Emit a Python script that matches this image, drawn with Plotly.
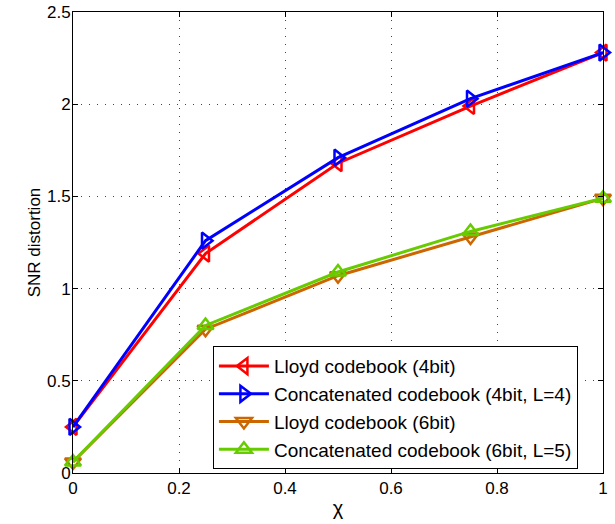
import plotly.graph_objects as go

chi = [0, 0.25, 0.5, 0.75, 1]
lloyd4 = [0.25, 1.19, 1.68, 1.99, 2.28]
concat4 = [0.25, 1.26, 1.71, 2.03, 2.28]
lloyd6 = [0.06, 0.78, 1.07, 1.28, 1.49]
concat6 = [0.06, 0.80, 1.09, 1.31, 1.49]

names = ["Lloyd codebook (4bit)", "Concatenated codebook (4bit, L=4)",
         "Lloyd codebook (6bit)", "Concatenated codebook (6bit, L=5)"]
colors = ["#ff0000", "#0000ff", "#cc6600", "#66cc00"]
symbols = ["triangle-left-open", "triangle-right-open", "triangle-down-open", "triangle-up-open"]
series = [lloyd4, concat4, lloyd6, concat6]

fig = go.Figure()
for n, c, s, y in zip(names, colors, symbols, series):
    fig.add_trace(go.Scatter(
        x=chi, y=y, name=n, mode="lines+markers", cliponaxis=False,
        line=dict(color=c, width=3),
        marker=dict(symbol=s, size=14, color=c, line=dict(color=c, width=2.5)),
    ))

axis_common = dict(
    showline=True, linecolor="black", linewidth=1, mirror="ticks",
    ticks="inside", ticklen=5, tickcolor="black", automargin=False,
    showgrid=True, gridcolor="#444444", griddash="1px,7px", gridwidth=1,
    zeroline=False, tickfont=dict(size=17, color="black"),
)

fig.update_layout(
    width=615, height=524,
    margin=dict(l=73, r=12, t=12, b=51),
    paper_bgcolor="white", plot_bgcolor="white",
    font=dict(family="Liberation Sans, Arial, sans-serif", color="black", size=17),
    xaxis=dict(range=[0, 1], tickvals=[0, 0.2, 0.4, 0.6, 0.8, 1],
               ticktext=["0", "0.2", "0.4", "0.6", "0.8", "1"],
               title=dict(text="χ", standoff=3, font=dict(size=20)), **axis_common),
    yaxis=dict(range=[0, 2.5], tickvals=[0, 0.5, 1, 1.5, 2, 2.5],
               ticktext=["0", "0.5", "1", "1.5", "2", "2.5"], ticklabelstandoff=-2,
               title=dict(text="SNR distortion", standoff=2, font=dict(size=17)), **axis_common),
    legend=dict(x=0.264, y=0.275, xanchor="left", yanchor="top",
                bgcolor="white", bordercolor="black", borderwidth=1,
                font=dict(size=19), tracegroupgap=0, itemwidth=50),
    showlegend=True,
)

fig.write_html("out.html")
